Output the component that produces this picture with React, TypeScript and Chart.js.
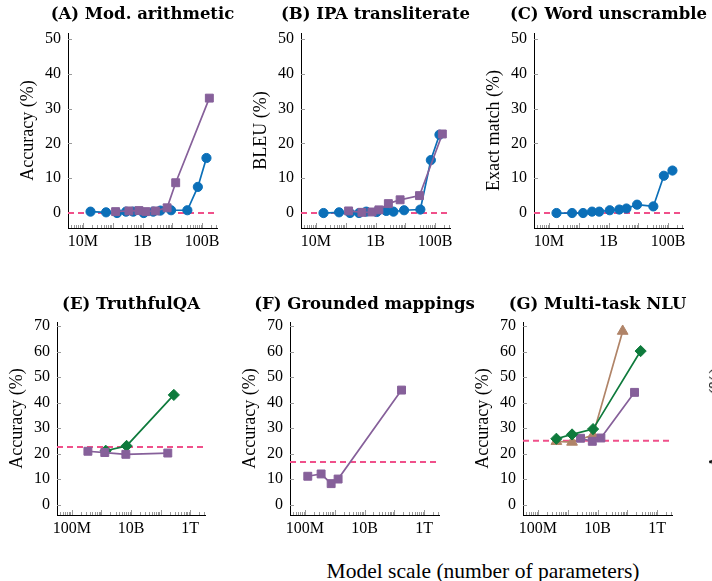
import React, { useEffect, useRef } from "react";
import { Chart, registerables } from "chart.js";

Chart.register(...registerables);

const SERIF = "'Liberation Serif', 'Times New Roman', serif";
const TITLE_SERIF = "'DejaVu Serif', serif";

const BLUE = "#0b6fb8";
const PURPLE = "#86609a";
const GREEN = "#0e7a3c";
const BROWN = "#b08468";
const PINK = "#f0508a";

// ---- tick labels ----
const topXTicks = [1e7, 1e9, 1e11];
const topXLabels = ["10M", "1B", "100B"];
const bottomXTicks = [1e8, 1e10, 1e12];
const bottomXLabels = ["100M", "10B", "1T"];
const topYTicks = [0, 10, 20, 30, 40, 50];
const bottomYTicks = [0, 10, 20, 30, 40, 50, 60, 70];

// ---- model sizes (number of parameters) ----
const lamdaParams = [1.8e7, 6e7, 1.4e8, 2.8e8, 4.9e8, 1.1e9, 2.3e9, 4e9, 9.1e9, 3.2e10, 7.2e10, 1.4e11];
const gpt3Params = [1.25e8, 3.5e8, 7.6e8, 1.3e9, 2.7e9, 6.7e9, 1.3e10, 1.75e11];
const gpt3ParamsB = [1.25e8, 3.5e8, 7.6e8, 1.3e9, 2.7e9, 6.7e9, 3e10, 1.75e11];
const gpt3ParamsE = [3.5e8, 1.3e9, 6.7e9, 1.75e11];
const gopherParamsE = [1.4e9, 7.1e9, 2.8e11];
const gpt3ParamsF = [1.25e8, 3.5e8, 7.6e8, 1.3e9, 1.75e11];
const gopherParamsG = [4.17e8, 1.4e9, 7.1e9, 2.8e11];
const chinchillaParamsG = [4.17e8, 1.4e9, 7.1e9, 7e10];
const gpt3ParamsG = [2.7e9, 6.7e9, 1.3e10, 1.75e11];

// ---- scores (%) ----
const modArithLamda = [0.4, 0.2, 0, 0.4, 0.4, 0, 0.4, 0.7, 0.8, 0.8, 7.5, 15.8];
const modArithGpt3 = [0.4, 0.6, 0.7, 0.4, 0.6, 1.5, 8.7, 33.0];
const ipaLamda = [0, 0.2, 0, 0, 0.4, 0.3, 0.6, 0.4, 0.8, 1.0, 15.2, 22.5];
const ipaGpt3 = [0.6, 0.2, 0.3, 0.9, 2.7, 3.8, 5.0, 22.7];
const unscrambleLamda = [0, 0, 0, 0.4, 0.4, 0.8, 1.0, 1.3, 2.4, 1.9, 10.7, 12.2];
const truthfulGpt3 = [20.9, 20.4, 19.7, 20.2];
const truthfulGopher = [21.1, 23.0, 43.0];
const groundedGpt3 = [11.1, 12.0, 8.2, 10.0, 44.9];
const mmluGopher = [25.8, 27.5, 29.6, 60.2];
const mmluChinchilla = [24.8, 24.5, 27.3, 68.0];
const mmluGpt3 = [26.0, 24.8, 26.1, 44.0];

// ---- random baselines (%) ----
const randomTop = 0;
const randomTruthful = 22.6;
const randomGrounded = 16.7;
const randomMmlu = 25;

// ---- layout constants ----
const YW = 56; // canvas space left of the plot area
const TH = 33; // canvas space above the plot area
const PR = 60; // canvas space right of the plot area
const XH = 30; // canvas space below the plot area
const TITLE_SIZE = 16.5;

type Series = { x: number[]; y: number[]; color: string; shape: string; radius: number };
type PanelSpec = {
  title: string;
  yTitle: string;
  left: number;
  right: number;
  top: number;
  bottom: number;
  titleY: number;
  xMin: number;
  xMax: number;
  xTicks: number[];
  xLabels: string[];
  yMin: number;
  yMax: number;
  yTicks: number[];
  random: number;
  series: Series[];
};

const TOP = { top: 33, bottom: 228, titleY: 15, xMin: Math.pow(10, 6.5), xMax: Math.pow(10, 11.5), xTicks: topXTicks, xLabels: topXLabels, yMin: -4.3, yMax: 51.7, yTicks: topYTicks };
const BOT = { top: 322, bottom: 515, titleY: 305, xMin: Math.pow(10, 7.5), xMax: Math.pow(10, 12.5), xTicks: bottomXTicks, xLabels: bottomXLabels, yMin: -4.1, yMax: 71.6, yTicks: bottomYTicks };

const circle = (x: number[], y: number[]): Series => ({ x, y, color: BLUE, shape: "circle", radius: 4.6 });
const square = (x: number[], y: number[]): Series => ({ x, y, color: PURPLE, shape: "rect", radius: 5.6 });
const diamond = (x: number[], y: number[]): Series => ({ x, y, color: GREEN, shape: "rectRot", radius: 5.6 });
const triangle = (x: number[], y: number[]): Series => ({ x, y, color: BROWN, shape: "triangle", radius: 6.2 });

const panels: PanelSpec[] = [
  { ...TOP, title: "(A) Mod. arithmetic", yTitle: "Accuracy (%)", left: 68, right: 217, random: randomTop,
    series: [square(gpt3Params, modArithGpt3), circle(lamdaParams, modArithLamda)] },
  { ...TOP, title: "(B) IPA transliterate", yTitle: "BLEU (%)", left: 301, right: 450, random: randomTop,
    series: [square(gpt3ParamsB, ipaGpt3), circle(lamdaParams, ipaLamda)] },
  { ...TOP, title: "(C) Word unscramble", yTitle: "Exact match (%)", left: 534, right: 683, random: randomTop,
    series: [circle(lamdaParams, unscrambleLamda)] },
  { ...BOT, title: "(E) TruthfulQA", yTitle: "Accuracy (%)", left: 57, right: 205, random: randomTruthful,
    series: [square(gpt3ParamsE, truthfulGpt3), diamond(gopherParamsE, truthfulGopher)] },
  { ...BOT, title: "(F) Grounded mappings", yTitle: "Accuracy (%)", left: 290, right: 439, random: randomGrounded,
    series: [square(gpt3ParamsF, groundedGpt3)] },
  { ...BOT, title: "(G) Multi-task NLU", yTitle: "Accuracy (%)", left: 523, right: 672, random: randomMmlu,
    series: [diamond(gopherParamsG, mmluGopher), square(gpt3ParamsG, mmluGpt3), triangle(chinchillaParamsG, mmluChinchilla)] },
];

const innerTicks = {
  id: "innerTicks",
  beforeDatasetsDraw(chart: any) {
    const { ctx, chartArea, scales } = chart;
    const xs = scales.x;
    const ys = scales.y;
    ctx.save();
    ctx.strokeStyle = "#9a9a9a";
    ctx.lineWidth = 1;
    ctx.beginPath();
    for (const t of ys.ticks) {
      const py = Math.round(ys.getPixelForValue(t.value)) + 0.5;
      ctx.moveTo(chartArea.left, py);
      ctx.lineTo(chartArea.left + 4, py);
    }
    const lo = Math.floor(Math.log10(xs.min));
    const hi = Math.floor(Math.log10(xs.max));
    for (let e = lo; e <= hi; e++) {
      for (let m = 1; m <= 9; m++) {
        const v = m * Math.pow(10, e);
        if (v < xs.min || v > xs.max) continue;
        const px = Math.round(xs.getPixelForValue(v)) + 0.5;
        const len = m === 1 ? 5 : 3;
        ctx.moveTo(px, chartArea.bottom);
        ctx.lineTo(px, chartArea.bottom - len);
      }
    }
    ctx.stroke();
    ctx.restore();
  },
};

// panel title centred over the plot area
const panelTitle = {
  id: "panelTitle",
  afterDraw(chart: any, _args: any, opts: any) {
    const { ctx, chartArea } = chart;
    ctx.save();
    ctx.font = `bold ${TITLE_SIZE}px ${TITLE_SERIF}`;
    ctx.fillStyle = "#000";
    ctx.textAlign = "center";
    ctx.textBaseline = "middle";
    ctx.fillText(opts.text, (chartArea.left + chartArea.right) / 2, opts.y);
    ctx.restore();
  },
};

function Panel({ spec }: { spec: PanelSpec }) {
  const ref = useRef<HTMLCanvasElement | null>(null);
  const w = YW + (spec.right - spec.left) + PR;
  const h = TH + (spec.bottom - spec.top) + XH;
  const canvasTop = spec.top - TH;

  useEffect(() => {
    if (!ref.current) return;

    const datasets: any[] = spec.series.map((s) => ({
      data: s.x.map((xv, i) => ({ x: xv, y: s.y[i] })),
      borderColor: s.color,
      backgroundColor: s.color,
      pointBackgroundColor: s.color,
      pointBorderColor: s.color,
      pointStyle: s.shape,
      pointRadius: s.radius,
      pointBorderWidth: 1,
      borderWidth: 1.7,
      tension: 0,
    }));
    datasets.push({
      data: [
        { x: spec.xMin, y: spec.random },
        { x: spec.xMax, y: spec.random },
      ],
      borderColor: PINK,
      borderDash: [6, 4],
      borderWidth: 2,
      pointRadius: 0,
      tension: 0,
    });

    const labelFor = (v: number) => {
      const idx = spec.xTicks.findIndex((t) => Math.abs(Math.log10(t) - Math.log10(v)) < 1e-6);
      return idx >= 0 ? spec.xLabels[idx] : "";
    };

    const chart = new Chart(ref.current, {
      type: "line",
      data: { datasets },
      options: {
        responsive: false,
        animation: false,
        devicePixelRatio: 1,
        layout: { padding: { left: 0, right: PR, top: TH, bottom: 0 } },
        plugins: {
          legend: { display: false },
          tooltip: { enabled: false },
          title: { display: false },
          panelTitle: { text: spec.title, y: spec.titleY - canvasTop },
        },
        scales: {
          x: {
            type: "logarithmic",
            min: spec.xMin,
            max: spec.xMax,
            bounds: "data",
            grid: { display: false, drawTicks: false },
            border: { display: true, color: "#000", width: 1 },
            ticks: {
              autoSkip: false,
              maxRotation: 0,
              padding: 4,
              color: "#000",
              font: { family: SERIF, size: 16, lineHeight: 1.2 },
              callback: (v: any) => labelFor(Number(v)),
            },
            afterBuildTicks: (s: any) => {
              s.ticks = spec.xTicks.map((v) => ({ value: v }));
            },
            afterFit: (s: any) => {
              s.height = XH;
            },
          },
          y: {
            type: "linear",
            min: spec.yMin,
            max: spec.yMax,
            bounds: "data",
            grid: { display: false, drawTicks: false },
            border: { display: true, color: "#000", width: 1 },
            ticks: {
              padding: 7,
              color: "#000",
              font: { family: SERIF, size: 16, lineHeight: 1.2 },
              callback: (v: any) => String(v),
            },
            afterBuildTicks: (s: any) => {
              s.ticks = spec.yTicks.map((v) => ({ value: v }));
            },
            afterFit: (s: any) => {
              s.width = YW;
            },
            title: {
              display: true,
              text: spec.yTitle,
              color: "#000",
              font: { family: SERIF, size: 18, lineHeight: 1.2 },
              padding: { top: YW - 40 - 10.8, bottom: 0 },
            },
          },
        },
      } as any,
      plugins: [innerTicks, panelTitle],
    });
    return () => chart.destroy();
  }, [spec]);

  return (
    <canvas
      ref={ref}
      width={w}
      height={h}
      style={{ position: "absolute", left: spec.left - YW, top: canvasTop, width: w, height: h }}
    />
  );
}

export default function App() {
  return (
    <div
      style={{
        position: "fixed",
        left: 0,
        top: 0,
        width: 712,
        height: 581,
        overflow: "hidden",
        background: "#fff",
      }}
    >
      {panels.map((p, i) => (
        <Panel key={i} spec={p} />
      ))}
      <div
        style={{
          position: "absolute",
          left: 283,
          width: 400,
          top: 558,
          lineHeight: "26px",
          textAlign: "center",
          fontFamily: SERIF,
          fontSize: 21.5,
          color: "#000",
          whiteSpace: "nowrap",
        }}
      >
        Model scale (number of parameters)
      </div>
      <div
        style={{
          position: "absolute",
          left: 716,
          top: 418,
          transform: "translate(-50%, -50%) rotate(-90deg)",
          fontFamily: SERIF,
          fontSize: 18,
          lineHeight: "20px",
          color: "#000",
          whiteSpace: "nowrap",
        }}
      >
        Accuracy (%)
      </div>
    </div>
  );
}
